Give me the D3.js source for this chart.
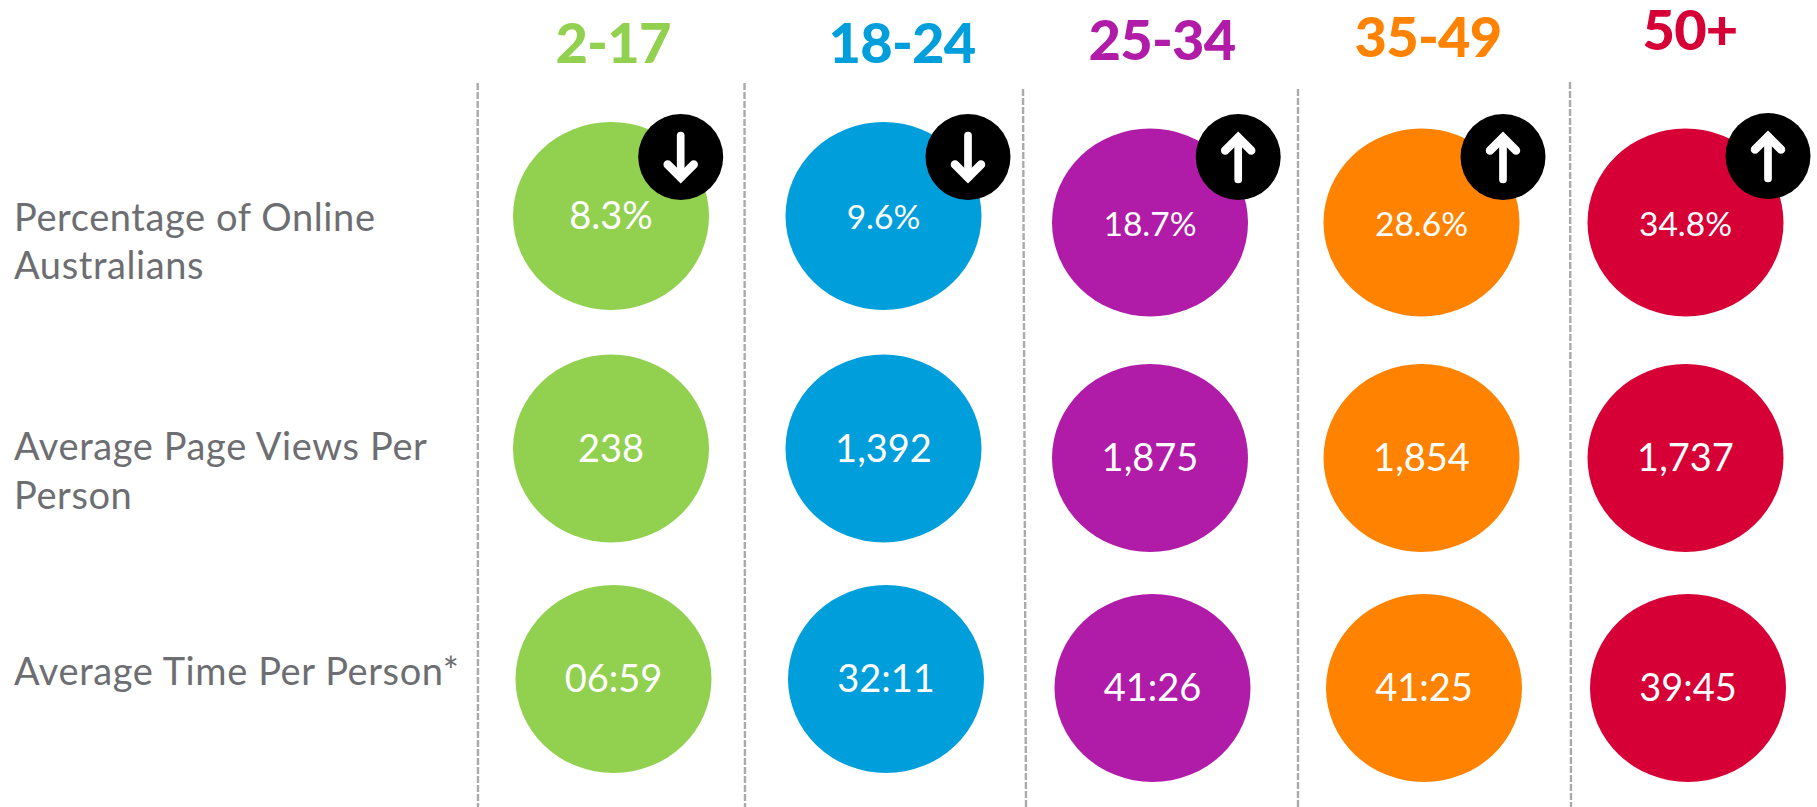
<!DOCTYPE html>
<html>
<head>
<meta charset="utf-8">
<script src="https://cdn.jsdelivr.net/npm/d3@7"></script>
<style>
  html, body { margin: 0; padding: 0; background: #fff; }
  svg { display: block; font-family: Lato, "Open Sans", sans-serif; }
</style>
</head>
<body>
<div id="chart"></div>
<script>
var ageGroups = ["2-17", "18-24", "25-34", "35-49", "50+"];
var metrics = ["pct", "views", "time"];
var metricLabels = [
  ["Percentage of Online", "Australians"],
  ["Average Page Views Per", "Person"],
  ["Average Time Per Person*"]
];
var pctOnline = [8.3, 9.6, 18.7, 28.6, 34.8];
var pageViews = [238, 1392, 1875, 1854, 1737];
var timePerPerson = ["06:59", "32:11", "41:26", "41:25", "39:45"];
var trend = ["down", "down", "up", "up", "up"];
var colors = ["#92d050", "#009edb", "#b01ca8", "#ff8200", "#d70036"];

var width = 1817;
var height = 807;
var rx = 98;
var ry = 94;

// the slide is hand placed, so the columns are not evenly spaced
var x = d3.scaleOrdinal().domain(ageGroups).range([611, 883.5, 1150, 1421.5, 1685.5]);
var color = d3.scaleOrdinal().domain(ageGroups).range(colors);
var yEarly = d3.scaleOrdinal().domain(metrics).range([216, 448.5, 679]);
var yLate = d3.scaleOrdinal().domain(metrics).range([222.5, 458, 688]);
var rowShift = d3.scaleOrdinal().domain(metrics).range([0, 0, 2.5]);

var headerX = d3.scaleOrdinal().domain(ageGroups).range([613, 902, 1162, 1428, 1690]);
var headerY = d3.scaleOrdinal().domain(ageGroups).range([63, 63, 60, 57, 50]);
var badgeX = d3.scaleOrdinal().domain(ageGroups).range([680.7, 968, 1238.2, 1503, 1768]);
var badgeY = d3.scaleOrdinal().domain(ageGroups).range([157, 157, 157, 157, 156]);

var dividers = [
  { x1: 477.7, x2: 478, top: 83 },
  { x1: 744.5, x2: 745, top: 83 },
  { x1: 1023, x2: 1026, top: 89 },
  { x1: 1298, x2: 1298, top: 89 },
  { x1: 1570, x2: 1571, top: 82 }
];

function cellY(group, metric) {
  return ageGroups.indexOf(group) < 2 ? yEarly(metric) : yLate(metric);
}

var svg = d3.select("#chart")
  .append("svg")
  .attr("width", width)
  .attr("height", height);

svg.selectAll(".divider")
  .data(dividers)
  .enter().append("line")
  .attr("class", "divider")
  .attr("x1", d => d.x1)
  .attr("x2", d => d.x2)
  .attr("y1", d => d.top)
  .attr("y2", height)
  .attr("stroke", "#aaaaaa")
  .attr("stroke-width", 2.4)
  .attr("stroke-dasharray", "7 2");

svg.selectAll(".header")
  .data(ageGroups)
  .enter().append("text")
  .attr("class", "header")
  .attr("x", d => headerX(d))
  .attr("y", d => headerY(d))
  .attr("text-anchor", "middle")
  .attr("font-size", 56)
  .attr("font-weight", 900)
  .attr("letter-spacing", -0.8)
  .attr("fill", d => color(d))
  .text(d => d);

var rowLabels = svg.selectAll(".row-label")
  .data(metricLabels)
  .enter().append("text")
  .attr("class", "row-label")
  .attr("font-size", 38)
  .attr("letter-spacing", 0.6)
  .attr("fill", "#6d6e71");

var labelBase = [230.5, 460, 685];
rowLabels.selectAll("tspan")
  .data((d, i) => d.map(t => ({ t: t, y: labelBase[i] })))
  .enter().append("tspan")
  .attr("x", 14)
  .attr("y", (d, i) => d.y + i * 48.5)
  .text(d => d.t);

var fmtPct = d => d3.format(".1f")(d) + "%";
var fmtViews = d3.format(",");

var cells = [];
ageGroups.forEach(function(g, i) {
  cells.push({ group: g, metric: "pct", label: fmtPct(pctOnline[i]) });
  cells.push({ group: g, metric: "views", label: fmtViews(pageViews[i]) });
  cells.push({ group: g, metric: "time", label: timePerPerson[i] });
});

svg.selectAll(".bubble")
  .data(cells)
  .enter().append("ellipse")
  .attr("class", "bubble")
  .attr("cx", d => x(d.group) + rowShift(d.metric))
  .attr("cy", d => cellY(d.group, d.metric))
  .attr("rx", rx)
  .attr("ry", ry)
  .attr("fill", d => color(d.group));

svg.selectAll(".value")
  .data(cells)
  .enter().append("text")
  .attr("class", "value")
  .attr("x", d => x(d.group) + rowShift(d.metric))
  .attr("y", d => cellY(d.group, d.metric) + 13)
  .attr("text-anchor", "middle")
  .attr("font-size", d => (d.metric === "pct" && d.group !== "2-17") ? 33.5 : 38)
  .attr("fill", "#fff")
  .text(d => d.label);

var badges = svg.selectAll(".badge")
  .data(ageGroups)
  .enter().append("g")
  .attr("class", "badge")
  .attr("transform", d => "translate(" + badgeX(d) + "," + badgeY(d) + ")");

badges.append("ellipse")
  .attr("rx", 42.5)
  .attr("ry", 43)
  .attr("fill", "#000");

var line = d3.line();
var arrows = badges.append("g")
  .attr("transform", (d, i) => "translate(0,0.5) scale(1," + (trend[i] === "down" ? 1 : -1) + ")")
  .attr("fill", "none")
  .attr("stroke", "#fff")
  .attr("stroke-linecap", "round");

arrows.append("path")
  .attr("d", line([[0, -22], [0, 20]]))
  .attr("stroke-width", 7.7);

arrows.append("path")
  .attr("d", line([[-13, 7], [0, 20], [13, 7]]))
  .attr("stroke-width", 8.5)
  .attr("stroke-linejoin", "miter");
</script>
</body>
</html>
